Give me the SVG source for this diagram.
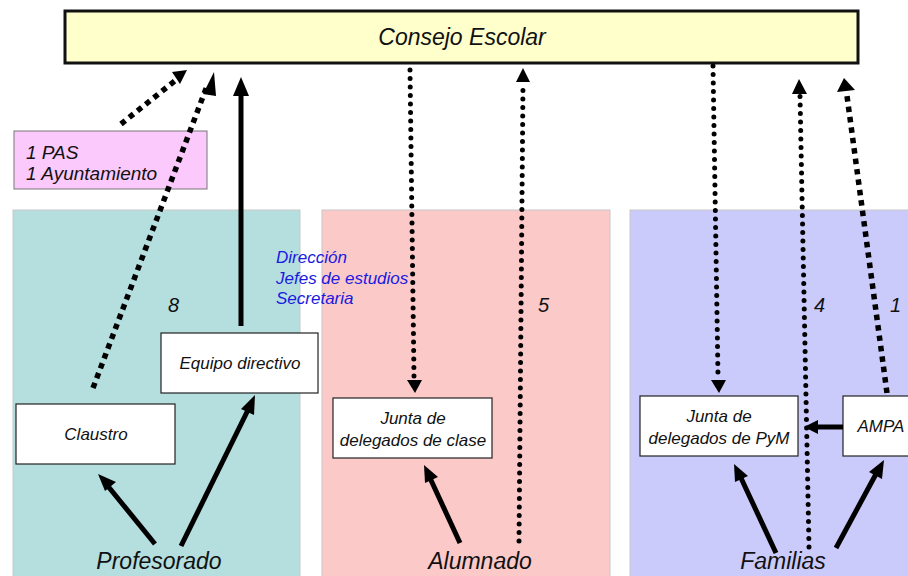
<svg xmlns="http://www.w3.org/2000/svg" width="908" height="576" viewBox="0 0 908 576">
<style>
text{font-family:"Liberation Sans",Arial,sans-serif;font-style:italic;fill:#111}
.node{fill:#fff;stroke:#222;stroke-width:1.2}
.nt{font-size:17px;text-anchor:middle}
.big{font-size:23px;text-anchor:middle}
.num{font-size:20px}
.blue{font-size:17px;fill:#1a1ae0}
.solid{stroke:#000;stroke-width:5;fill:none}
.dot{stroke:#000;stroke-width:5;fill:none;stroke-linecap:round;stroke-dasharray:0 8.5}
.sq{stroke:#000;stroke-width:5.5;fill:none;stroke-dasharray:5.5 5}
</style>
<rect width="908" height="576" fill="#fff"/>
<g id="panels">
<rect x="13" y="210" width="287" height="370" fill="#b5dedf" stroke="#c8c8c8"/>
<rect x="322" y="210" width="288" height="370" fill="#fcc9c9" stroke="#c8c8c8"/>
<rect x="630" y="210" width="282" height="370" fill="#cbcbfb" stroke="#c8c8c8"/>
</g>
<g id="consejo">
<rect x="65" y="11" width="793" height="52" fill="#ffffcc" stroke="#111" stroke-width="3"/>
<text x="462" y="45" class="big">Consejo Escolar</text>
</g>
<g id="pas">
<rect x="14" y="131" width="193" height="58" fill="#fcc9fc" stroke="#777" stroke-width="1"/>
<text x="26" y="159" style="font-size:19px">1 PAS</text>
<text x="26" y="180" style="font-size:19px">1 Ayuntamiento</text>
</g>
<g id="labels">
<text x="276" y="263" class="blue">Dirección</text>
<text x="276" y="284" class="blue">Jefes de estudios</text>
<text x="276" y="304" class="blue">Secretaria</text>
<text x="168" y="312" class="num">8</text>
<text x="538" y="312" class="num">5</text>
<text x="814" y="312" class="num">4</text>
<text x="890" y="312" class="num">1</text>
<text x="159" y="569" class="big">Profesorado</text>
<text x="480" y="569" class="big">Alumnado</text>
<text x="783" y="569" class="big">Familias</text>
</g>
<g id="claustro">
<rect x="16" y="404" width="159" height="60" class="node"/>
<text x="96" y="440" class="nt">Claustro</text>
</g>
<g id="equipo">
<rect x="161" y="333" width="157" height="60" class="node"/>
<text x="240" y="369" class="nt">Equipo directivo</text>
</g>
<g id="junta-clase">
<rect x="333" y="398" width="159" height="60" class="node"/>
<text x="413" y="424" class="nt">Junta de</text>
<text x="413" y="446" class="nt">delegados de clase</text>
</g>
<g id="junta-pym">
<rect x="640" y="396" width="158" height="60" class="node"/>
<text x="719" y="422" class="nt">Junta de</text>
<text x="719" y="444" class="nt">delegados de PyM</text>
</g>
<g id="ampa">
<rect x="843" y="396" width="70" height="60" class="node"/>
<text x="881" y="432" class="nt">AMPA</text>
</g>
<g id="connectors">
<path class="sq" d="M93,388 L207,86"/>
<path d="M203,94 L214,72 L216,96 z" fill="#000"/>
<path class="sq" d="M121,124 L176,80"/>
<path d="M172,72 L187,70 L180,84 z" fill="#000"/>
<path class="solid" d="M241,326 L241,94"/>
<path d="M233,96 L241,77 L249,96 z" fill="#000"/>
<path class="dot" d="M410,70 L414,376"/>
<path d="M407,380 L422,380 L415,393 z" fill="#000"/>
<path class="dot" d="M519,541 L523,84"/>
<path d="M516,82 L523,68 L530,82 z" fill="#000"/>
<path class="dot" d="M713,66 L718,376"/>
<path d="M711,380 L726,380 L719,393 z" fill="#000"/>
<path class="dot" d="M809,547 L800,96"/>
<path d="M792,94 L799,79 L807,94 z" fill="#000"/>
<path class="sq" d="M887,393 L847,96"/>
<path d="M837,92 L844,78 L855,90 z" fill="#000"/>
<path class="solid" d="M843,427 L815,427"/>
<path d="M818,420 L804,427 L818,434 z" fill="#000"/>
<path class="solid" d="M155,544 L107,485"/>
<path d="M98,474 L116,482 L105,491 z" fill="#000"/>
<path class="solid" d="M181,546 L248,410"/>
<path d="M255,395 L254,415 L241,409 z" fill="#000"/>
<path class="solid" d="M460,543 L430,478"/>
<path d="M424,465 L438,477 L425,483 z" fill="#000"/>
<path class="solid" d="M776,553 L741,478"/>
<path d="M734,464 L748,476 L735,482 z" fill="#000"/>
<path class="solid" d="M836,548 L876,474"/>
<path d="M884,460 L882,479 L869,472 z" fill="#000"/>
</g>
</svg>
